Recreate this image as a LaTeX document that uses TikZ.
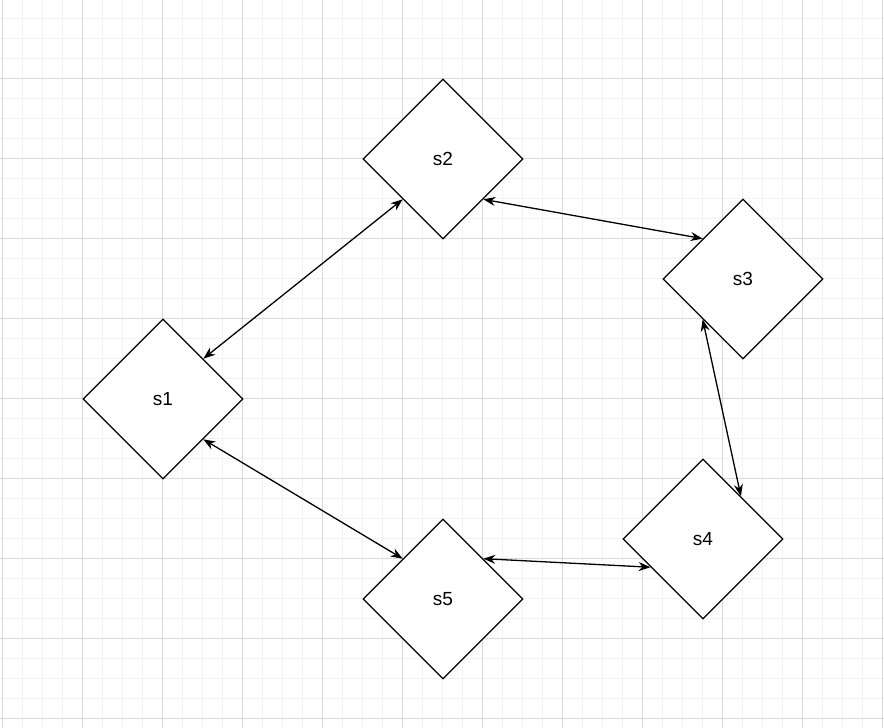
\documentclass[tikz,border=0pt]{standalone}
\usepackage{fontspec}
\setmainfont{Liberation Sans}
\usetikzlibrary{shapes.geometric,arrows.meta,calc}
\begin{document}
\begin{tikzpicture}[x=1pt,y=-1pt,
  st/.style={diamond,draw,line width=1.3pt,fill=white,minimum width=160pt,minimum height=160pt,inner sep=0pt,font=\fontsize{19}{22}\selectfont},
  link/.style={line width=1.3pt,{Stealth[length=12pt,width=9pt]}-{Stealth[length=12pt,width=9pt]}}]
\useasboundingbox (0,0) rectangle (884,728);
\fill[white] (0,0) rectangle (884,728);
\foreach \i in {0,...,44} \draw[color=black!5,line width=1pt] (2.5+20*\i,0) -- (2.5+20*\i,728);
\foreach \i in {0,...,36} \draw[color=black!5,line width=1pt] (0,-2+20*\i) -- (884,-2+20*\i);
\foreach \i in {0,...,11} \draw[color=black!15,line width=0.8pt] (2.5+80*\i,0) -- (2.5+80*\i,728);
\foreach \i in {1,...,9} \draw[color=black!15,line width=0.8pt] (0,-2+80*\i) -- (884,-2+80*\i);
\node[st] (s1) at (163,399) {s1};
\node[st] (s2) at (443,159) {s2};
\node[st] (s3) at (743,279) {s3};
\node[st] (s4) at (703,539) {s4};
\node[st] (s5) at (443,599) {s5};
\draw[link] (s1.north east) -- (s2.south west);
\draw[link] (s2.south east) -- ($(s3.north)!0.5!(s3.west)$);
\draw[link] (s3.south west) -- ($(s4.north)!0.47!(s4.east)$);
\draw[link] (s5.north east) -- ($(s4.west)!0.35!(s4.south)$);
\draw[link] (s1.south east) -- ($(s5.north)!0.5!(s5.west)$);
\end{tikzpicture}
\end{document}
